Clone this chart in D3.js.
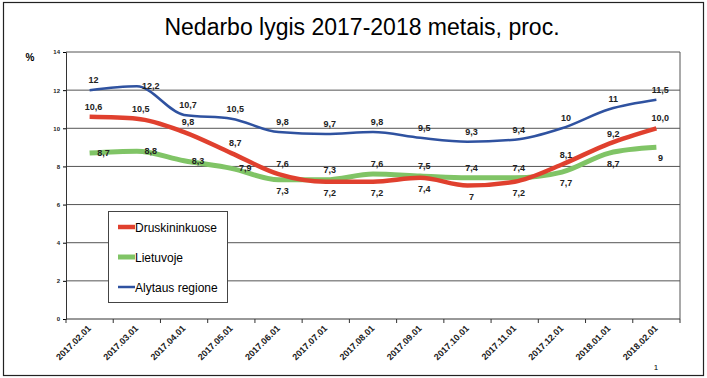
<!DOCTYPE html>
<html lang="en">
<head>
  <meta charset="UTF-8">
  <title>Nedarbo lygis 2017-2018</title>
  <style>
    body { margin: 0; padding: 0; background: #fff; font-family: Arial, "Liberation Sans", sans-serif; }
    svg { display: block; }
  </style>
</head>
<body>
  <svg id="chart" width="707" height="378"></svg>

  <script src="https://d3js.org/d3.v7.min.js"></script>
  <script>
    // data
    const dates = ["2017.02.01", "2017.03.01", "2017.04.01", "2017.05.01", "2017.06.01", "2017.07.01",
      "2017.08.01", "2017.09.01", "2017.10.01", "2017.11.01", "2017.12.01", "2018.01.01", "2018.02.01"];
    const druskininkuose = [10.6, 10.5, 9.8, 8.7, 7.6, 7.2, 7.2, 7.4, 7.0, 7.2, 8.1, 9.2, 10.0];
    const lietuvoje = [8.7, 8.8, 8.3, 7.9, 7.3, 7.3, 7.6, 7.5, 7.4, 7.4, 7.7, 8.7, 9.0];
    const alytausRegione = [12, 12.2, 10.7, 10.5, 9.8, 9.7, 9.8, 9.5, 9.3, 9.4, 10, 11, 11.5];
    const druskLabels = ["10,6", "10,5", "9,8", "8,7", "7,6", "7,2", "7,2", "7,4", "7", "7,2", "8,1", "9,2", "10,0"];
    const lietLabels = ["8,7", "8,8", "8,3", "7,9", "7,3", "7,3", "7,6", "7,5", "7,4", "7,4", "7,7", "8,7", "9"];
    const alytLabels = ["12", "12,2", "10,7", "10,5", "9,8", "9,7", "9,8", "9,5", "9,3", "9,4", "10", "11", "11,5"];
    const yTicks = [0, 2, 4, 6, 8, 10, 12, 14];

    // label placement: a = above, b = below, r = beside
    const druskPlace = ["a", "a", "a", "a", "a", "b", "b", "b", "b", "b", "a", "a", "a"];
    const lietPlace = ["r", "r", "r", "r", "b", "a", "a", "a", "a", "a", "b", "b", "b"];
    const alytPlace = ["a", "r", "a", "a", "a", "a", "a", "a", "a", "a", "a", "a", "a"];

    const series = [
      { name: "Druskininkuose", values: druskininkuose, labels: druskLabels, place: druskPlace, color: "#e0402e", width: 4.5 },
      { name: "Lietuvoje", values: lietuvoje, labels: lietLabels, place: lietPlace, color: "#80c466", width: 5 },
      { name: "Alytaus regione", values: alytausRegione, labels: alytLabels, place: alytPlace, color: "#2f52a0", width: 2.5 }
    ];

    const svg = d3.select("#chart");
    const W = 707, H = 378;
    const m = { left: 66, right: 27, top: 52, bottom: 59 };

    // outer frame
    svg.append("rect")
      .attr("x", 3.5).attr("y", 2.5)
      .attr("width", 700).attr("height", 373)
      .attr("fill", "#fff").attr("stroke", "#222").attr("stroke-width", 1.2);

    svg.append("text")
      .attr("x", 362).attr("y", 35)
      .attr("text-anchor", "middle")
      .style("font-size", "23px")
      .text("Nedarbo lygis 2017-2018 metais, proc.");

    const x = d3.scaleBand().domain(dates).range([m.left, W - m.right]);
    const y = d3.scaleLinear().domain([0, 14]).range([H - m.bottom, m.top]);

    // gridlines
    svg.append("g")
      .selectAll("line")
      .data(yTicks.filter(d => d > 0))
      .join("line")
      .attr("x1", m.left).attr("x2", W - m.right)
      .attr("y1", d => y(d)).attr("y2", d => y(d))
      .attr("stroke", "#555").attr("stroke-width", 1);

    // right border of plot
    svg.append("line")
      .attr("x1", W - m.right).attr("x2", W - m.right)
      .attr("y1", y(14)).attr("y2", y(0))
      .attr("stroke", "#555");

    // y axis
    const yAxis = svg.append("g")
      .attr("transform", `translate(${m.left},0)`)
      .call(d3.axisLeft(y).tickValues(yTicks).tickSize(3).tickFormat(d3.format("d")));
    yAxis.select(".domain").attr("stroke", "#333");
    yAxis.selectAll("text").style("font-size", "6px").style("font-weight", "bold").attr("fill", "#222");

    // x axis: ticks at band edges
    const xAxisG = svg.append("g").attr("transform", `translate(0,${y(0)})`);
    xAxisG.append("line")
      .attr("x1", m.left).attr("x2", W - m.right)
      .attr("stroke", "#333");
    xAxisG.selectAll("line.tk")
      .data(dates.concat(["end"]))
      .join("line")
      .attr("class", "tk")
      .attr("x1", (d, i) => m.left + i * x.step()).attr("x2", (d, i) => m.left + i * x.step())
      .attr("y1", 0).attr("y2", 4)
      .attr("stroke", "#333");
    xAxisG.selectAll("text")
      .data(dates)
      .join("text")
      .attr("transform", d => `translate(${x(d) + x.bandwidth() / 2 + 2},10) rotate(-45)`)
      .attr("text-anchor", "end")
      .style("font-size", "9px")
      .style("font-weight", "bold")
      .attr("fill", "#222")
      .text(d => d);

    svg.append("text")
      .attr("x", 30).attr("y", 61)
      .attr("text-anchor", "middle")
      .style("font-size", "10px").style("font-weight", "bold")
      .text("%");

    const cx = d => x(d) + x.bandwidth() / 2;
    const line = d3.line()
      .x((d, i) => cx(dates[i]))
      .y(d => y(d))
      .curve(d3.curveMonotoneX);

    // draw green first, then red, then blue on top
    [series[1], series[0], series[2]].forEach(s => {
      svg.append("path")
        .datum(s.values)
        .attr("fill", "none")
        .attr("stroke", s.color)
        .attr("stroke-width", s.width)
        .attr("stroke-linejoin", "round")
        .attr("d", line);
    });

    // data labels
    series.forEach(s => {
      svg.append("g")
        .selectAll("text")
        .data(s.values)
        .join("text")
        .attr("x", (d, i) => cx(dates[i]) + (s.place[i] === "r" ? 14 : 4))
        .attr("y", (d, i) => y(d) + (s.place[i] === "a" ? -7 : s.place[i] === "b" ? 14 : 3))
        .attr("text-anchor", "middle")
        .style("font-size", "9px")
        .style("font-weight", "bold")
        .attr("fill", "#222")
        .text((d, i) => s.labels[i]);
    });

    // legend
    const lg = svg.append("g").attr("transform", "translate(108,211)");
    lg.append("rect")
      .attr("x", 0.5).attr("y", 0.5).attr("width", 119).attr("height", 91)
      .attr("fill", "#fff").attr("stroke", "#444");
    series.forEach((s, i) => {
      const ly = 16 + i * 30;
      lg.append("line")
        .attr("x1", 10).attr("x2", 27)
        .attr("y1", ly).attr("y2", ly)
        .attr("stroke", s.color).attr("stroke-width", s.width);
      lg.append("text")
        .attr("x", 27).attr("y", ly + 4.5)
        .style("font-size", "12px")
        .text(s.name);
    });

    svg.append("text")
      .attr("x", 656).attr("y", 370)
      .attr("text-anchor", "middle")
      .style("font-size", "8px")
      .text("1");
  </script>
</body>
</html>
